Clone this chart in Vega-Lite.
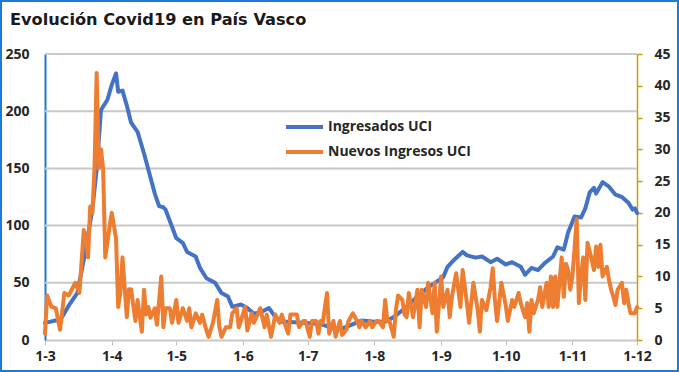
{
  "$schema": "https://vega.github.io/schema/vega-lite/v6.json",
  "width": 677,
  "height": 370,
  "padding": 1,
  "autosize": "none",
  "background": "white",
  "title": {"text": "Evolución Covid19 en País Vasco", "anchor": "start", "frame": "group", "offset": -27, "dx": 9, "font": "DejaVu Sans", "fontSize": 16.2, "fontWeight": "bold", "color": "#1a1a1a"},
  "config": {"view": {"stroke": "#1E7AD6", "strokeWidth": 2}},
  "datasets": {
    "uci": [
      {"fecha": "2020-03-01", "valor": 15}, {"fecha": "2020-03-06", "valor": 17}, {"fecha": "2020-03-08", "valor": 17},
      {"fecha": "2020-03-12", "valor": 30}, {"fecha": "2020-03-16", "valor": 41}, {"fecha": "2020-03-19", "valor": 70},
      {"fecha": "2020-03-23", "valor": 114}, {"fecha": "2020-03-25", "valor": 149}, {"fecha": "2020-03-27", "valor": 201},
      {"fecha": "2020-03-30", "valor": 210}, {"fecha": "2020-04-01", "valor": 223}, {"fecha": "2020-04-03", "valor": 233},
      {"fecha": "2020-04-04", "valor": 217}, {"fecha": "2020-04-06", "valor": 218}, {"fecha": "2020-04-08", "valor": 205},
      {"fecha": "2020-04-10", "valor": 190}, {"fecha": "2020-04-13", "valor": 182}, {"fecha": "2020-04-16", "valor": 163},
      {"fecha": "2020-04-19", "valor": 142}, {"fecha": "2020-04-21", "valor": 128}, {"fecha": "2020-04-23", "valor": 117},
      {"fecha": "2020-04-25", "valor": 116}, {"fecha": "2020-04-26", "valor": 114}, {"fecha": "2020-04-29", "valor": 99},
      {"fecha": "2020-05-01", "valor": 89}, {"fecha": "2020-05-04", "valor": 85}, {"fecha": "2020-05-06", "valor": 77},
      {"fecha": "2020-05-10", "valor": 73}, {"fecha": "2020-05-12", "valor": 63}, {"fecha": "2020-05-15", "valor": 54},
      {"fecha": "2020-05-19", "valor": 50}, {"fecha": "2020-05-22", "valor": 41}, {"fecha": "2020-05-25", "valor": 38},
      {"fecha": "2020-05-27", "valor": 29}, {"fecha": "2020-05-31", "valor": 31}, {"fecha": "2020-06-03", "valor": 28},
      {"fecha": "2020-06-06", "valor": 23}, {"fecha": "2020-06-09", "valor": 24}, {"fecha": "2020-06-13", "valor": 28},
      {"fecha": "2020-06-16", "valor": 20}, {"fecha": "2020-06-18", "valor": 16}, {"fecha": "2020-06-21", "valor": 16},
      {"fecha": "2020-06-29", "valor": 15}, {"fecha": "2020-07-07", "valor": 14}, {"fecha": "2020-07-13", "valor": 10},
      {"fecha": "2020-07-17", "valor": 10}, {"fecha": "2020-07-21", "valor": 13}, {"fecha": "2020-07-26", "valor": 17},
      {"fecha": "2020-08-01", "valor": 16}, {"fecha": "2020-08-06", "valor": 16}, {"fecha": "2020-08-10", "valor": 20},
      {"fecha": "2020-08-14", "valor": 26}, {"fecha": "2020-08-16", "valor": 29}, {"fecha": "2020-08-21", "valor": 38},
      {"fecha": "2020-08-26", "valor": 46}, {"fecha": "2020-08-30", "valor": 51}, {"fecha": "2020-09-02", "valor": 55},
      {"fecha": "2020-09-04", "valor": 64}, {"fecha": "2020-09-07", "valor": 70}, {"fecha": "2020-09-11", "valor": 77},
      {"fecha": "2020-09-13", "valor": 74}, {"fecha": "2020-09-17", "valor": 72}, {"fecha": "2020-09-20", "valor": 73},
      {"fecha": "2020-09-24", "valor": 68}, {"fecha": "2020-09-27", "valor": 71}, {"fecha": "2020-10-01", "valor": 66},
      {"fecha": "2020-10-04", "valor": 68}, {"fecha": "2020-10-08", "valor": 64}, {"fecha": "2020-10-10", "valor": 57},
      {"fecha": "2020-10-11", "valor": 59}, {"fecha": "2020-10-13", "valor": 63}, {"fecha": "2020-10-16", "valor": 61},
      {"fecha": "2020-10-19", "valor": 67}, {"fecha": "2020-10-23", "valor": 73}, {"fecha": "2020-10-25", "valor": 81},
      {"fecha": "2020-10-28", "valor": 79}, {"fecha": "2020-10-30", "valor": 94}, {"fecha": "2020-11-02", "valor": 108},
      {"fecha": "2020-11-05", "valor": 107}, {"fecha": "2020-11-07", "valor": 115}, {"fecha": "2020-11-09", "valor": 129},
      {"fecha": "2020-11-11", "valor": 133}, {"fecha": "2020-11-12", "valor": 128}, {"fecha": "2020-11-15", "valor": 138},
      {"fecha": "2020-11-18", "valor": 134}, {"fecha": "2020-11-21", "valor": 127}, {"fecha": "2020-11-24", "valor": 125},
      {"fecha": "2020-11-27", "valor": 120}, {"fecha": "2020-11-29", "valor": 114}, {"fecha": "2020-11-30", "valor": 115},
      {"fecha": "2020-12-01", "valor": 111}
    ],
    "nuevos": [
      {"fecha": "2020-03-01", "valor": 1}, {"fecha": "2020-03-02", "valor": 7}, {"fecha": "2020-03-04", "valor": 5.2},
      {"fecha": "2020-03-06", "valor": 5}, {"fecha": "2020-03-08", "valor": 1.6}, {"fecha": "2020-03-10", "valor": 7.4},
      {"fecha": "2020-03-12", "valor": 7}, {"fecha": "2020-03-14", "valor": 8.3}, {"fecha": "2020-03-15", "valor": 9},
      {"fecha": "2020-03-17", "valor": 7.4}, {"fecha": "2020-03-19", "valor": 17.3}, {"fecha": "2020-03-20", "valor": 15.7},
      {"fecha": "2020-03-21", "valor": 13}, {"fecha": "2020-03-22", "valor": 21}, {"fecha": "2020-03-23", "valor": 20},
      {"fecha": "2020-03-24", "valor": 27}, {"fecha": "2020-03-25", "valor": 42}, {"fecha": "2020-03-26", "valor": 27},
      {"fecha": "2020-03-27", "valor": 30}, {"fecha": "2020-03-28", "valor": 27}, {"fecha": "2020-03-29", "valor": 13},
      {"fecha": "2020-03-31", "valor": 17.8}, {"fecha": "2020-04-01", "valor": 20}, {"fecha": "2020-04-03", "valor": 16},
      {"fecha": "2020-04-04", "valor": 5.2}, {"fecha": "2020-04-05", "valor": 7.4}, {"fecha": "2020-04-06", "valor": 13},
      {"fecha": "2020-04-08", "valor": 3.6}, {"fecha": "2020-04-09", "valor": 8}, {"fecha": "2020-04-10", "valor": 8},
      {"fecha": "2020-04-12", "valor": 3}, {"fecha": "2020-04-13", "valor": 6.3}, {"fecha": "2020-04-15", "valor": 1.3},
      {"fecha": "2020-04-16", "valor": 7.9}, {"fecha": "2020-04-17", "valor": 4}, {"fecha": "2020-04-18", "valor": 5.2},
      {"fecha": "2020-04-19", "valor": 3.5}, {"fecha": "2020-04-21", "valor": 5}, {"fecha": "2020-04-22", "valor": 2.4},
      {"fecha": "2020-04-24", "valor": 10}, {"fecha": "2020-04-25", "valor": 2}, {"fecha": "2020-04-26", "valor": 5},
      {"fecha": "2020-04-28", "valor": 5}, {"fecha": "2020-04-29", "valor": 2.7}, {"fecha": "2020-05-01", "valor": 6.3},
      {"fecha": "2020-05-02", "valor": 2.7}, {"fecha": "2020-05-04", "valor": 5}, {"fecha": "2020-05-06", "valor": 3},
      {"fecha": "2020-05-07", "valor": 5}, {"fecha": "2020-05-08", "valor": 2}, {"fecha": "2020-05-10", "valor": 4.2},
      {"fecha": "2020-05-12", "valor": 2.7}, {"fecha": "2020-05-13", "valor": 4}, {"fecha": "2020-05-15", "valor": 1.5},
      {"fecha": "2020-05-16", "valor": 0.5}, {"fecha": "2020-05-18", "valor": 2.7}, {"fecha": "2020-05-20", "valor": 6.3},
      {"fecha": "2020-05-21", "valor": 2}, {"fecha": "2020-05-22", "valor": 0.5}, {"fecha": "2020-05-24", "valor": 2},
      {"fecha": "2020-05-26", "valor": 2}, {"fecha": "2020-05-27", "valor": 4.2}, {"fecha": "2020-05-29", "valor": 5},
      {"fecha": "2020-05-30", "valor": 2}, {"fecha": "2020-06-02", "valor": 5.2}, {"fecha": "2020-06-03", "valor": 1.5},
      {"fecha": "2020-06-05", "valor": 4.2}, {"fecha": "2020-06-06", "valor": 2.7}, {"fecha": "2020-06-08", "valor": 4.2},
      {"fecha": "2020-06-09", "valor": 5}, {"fecha": "2020-06-11", "valor": 2}, {"fecha": "2020-06-12", "valor": 4},
      {"fecha": "2020-06-14", "valor": 0.5}, {"fecha": "2020-06-16", "valor": 4}, {"fecha": "2020-06-18", "valor": 2.7},
      {"fecha": "2020-06-19", "valor": 4}, {"fecha": "2020-06-21", "valor": 2}, {"fecha": "2020-06-22", "valor": 1},
      {"fecha": "2020-06-23", "valor": 4}, {"fecha": "2020-06-24", "valor": 4}, {"fecha": "2020-06-26", "valor": 4},
      {"fecha": "2020-06-27", "valor": 2}, {"fecha": "2020-06-29", "valor": 3}, {"fecha": "2020-06-30", "valor": 3},
      {"fecha": "2020-07-02", "valor": 0.5}, {"fecha": "2020-07-03", "valor": 3}, {"fecha": "2020-07-05", "valor": 3},
      {"fecha": "2020-07-06", "valor": 1}, {"fecha": "2020-07-07", "valor": 3}, {"fecha": "2020-07-08", "valor": 2.7},
      {"fecha": "2020-07-10", "valor": 7.4}, {"fecha": "2020-07-11", "valor": 1}, {"fecha": "2020-07-13", "valor": 3},
      {"fecha": "2020-07-14", "valor": 0.5}, {"fecha": "2020-07-16", "valor": 3}, {"fecha": "2020-07-17", "valor": 0.8},
      {"fecha": "2020-07-19", "valor": 1.6}, {"fecha": "2020-07-20", "valor": 3}, {"fecha": "2020-07-22", "valor": 4.2},
      {"fecha": "2020-07-24", "valor": 3}, {"fecha": "2020-07-25", "valor": 2}, {"fecha": "2020-07-26", "valor": 3},
      {"fecha": "2020-07-28", "valor": 2}, {"fecha": "2020-07-30", "valor": 3}, {"fecha": "2020-07-31", "valor": 2},
      {"fecha": "2020-08-02", "valor": 3}, {"fecha": "2020-08-03", "valor": 3}, {"fecha": "2020-08-05", "valor": 2},
      {"fecha": "2020-08-06", "valor": 6.3}, {"fecha": "2020-08-07", "valor": 3}, {"fecha": "2020-08-08", "valor": 3},
      {"fecha": "2020-08-10", "valor": 0.5}, {"fecha": "2020-08-11", "valor": 4.7}, {"fecha": "2020-08-12", "valor": 7},
      {"fecha": "2020-08-14", "valor": 6.3}, {"fecha": "2020-08-15", "valor": 4}, {"fecha": "2020-08-16", "valor": 3.6},
      {"fecha": "2020-08-17", "valor": 7.4}, {"fecha": "2020-08-19", "valor": 3.6}, {"fecha": "2020-08-21", "valor": 7.9},
      {"fecha": "2020-08-22", "valor": 2}, {"fecha": "2020-08-23", "valor": 7.9}, {"fecha": "2020-08-25", "valor": 5.2},
      {"fecha": "2020-08-26", "valor": 9}, {"fecha": "2020-08-28", "valor": 4.2}, {"fecha": "2020-08-29", "valor": 9},
      {"fecha": "2020-08-30", "valor": 1.3}, {"fecha": "2020-09-01", "valor": 10}, {"fecha": "2020-09-02", "valor": 5.2},
      {"fecha": "2020-09-04", "valor": 7.9}, {"fecha": "2020-09-05", "valor": 3.6}, {"fecha": "2020-09-06", "valor": 6.8},
      {"fecha": "2020-09-08", "valor": 10.5}, {"fecha": "2020-09-10", "valor": 5.2}, {"fecha": "2020-09-11", "valor": 11},
      {"fecha": "2020-09-13", "valor": 5.8}, {"fecha": "2020-09-14", "valor": 2.7}, {"fecha": "2020-09-16", "valor": 9},
      {"fecha": "2020-09-18", "valor": 4.7}, {"fecha": "2020-09-19", "valor": 1.3}, {"fecha": "2020-09-20", "valor": 6.3},
      {"fecha": "2020-09-22", "valor": 4.7}, {"fecha": "2020-09-24", "valor": 8.3}, {"fecha": "2020-09-25", "valor": 11.3},
      {"fecha": "2020-09-26", "valor": 6.3}, {"fecha": "2020-09-27", "valor": 3}, {"fecha": "2020-09-29", "valor": 9},
      {"fecha": "2020-10-01", "valor": 5.5}, {"fecha": "2020-10-02", "valor": 3}, {"fecha": "2020-10-04", "valor": 6.3},
      {"fecha": "2020-10-05", "valor": 5.2}, {"fecha": "2020-10-07", "valor": 7.4}, {"fecha": "2020-10-08", "valor": 5.8},
      {"fecha": "2020-10-10", "valor": 3.6}, {"fecha": "2020-10-11", "valor": 5.8}, {"fecha": "2020-10-12", "valor": 1.3},
      {"fecha": "2020-10-13", "valor": 6.3}, {"fecha": "2020-10-14", "valor": 4.2}, {"fecha": "2020-10-16", "valor": 6.3},
      {"fecha": "2020-10-17", "valor": 8.3}, {"fecha": "2020-10-18", "valor": 5.2}, {"fecha": "2020-10-20", "valor": 9},
      {"fecha": "2020-10-21", "valor": 5.2}, {"fecha": "2020-10-22", "valor": 10}, {"fecha": "2020-10-23", "valor": 5.2},
      {"fecha": "2020-10-24", "valor": 10}, {"fecha": "2020-10-25", "valor": 5.2}, {"fecha": "2020-10-27", "valor": 13},
      {"fecha": "2020-10-28", "valor": 6.8}, {"fecha": "2020-10-29", "valor": 12}, {"fecha": "2020-10-30", "valor": 11},
      {"fecha": "2020-10-31", "valor": 7.9}, {"fecha": "2020-11-01", "valor": 10}, {"fecha": "2020-11-03", "valor": 19},
      {"fecha": "2020-11-04", "valor": 5.8}, {"fecha": "2020-11-05", "valor": 10}, {"fecha": "2020-11-06", "valor": 13},
      {"fecha": "2020-11-07", "valor": 6.3}, {"fecha": "2020-11-08", "valor": 15.3}, {"fecha": "2020-11-10", "valor": 12.6},
      {"fecha": "2020-11-11", "valor": 11}, {"fecha": "2020-11-12", "valor": 14.7}, {"fecha": "2020-11-13", "valor": 11.5},
      {"fecha": "2020-11-14", "valor": 15}, {"fecha": "2020-11-15", "valor": 10}, {"fecha": "2020-11-17", "valor": 11.5},
      {"fecha": "2020-11-18", "valor": 9.4}, {"fecha": "2020-11-19", "valor": 7.9}, {"fecha": "2020-11-20", "valor": 6.8},
      {"fecha": "2020-11-21", "valor": 5.5}, {"fecha": "2020-11-22", "valor": 7.9}, {"fecha": "2020-11-24", "valor": 9},
      {"fecha": "2020-11-25", "valor": 5.8}, {"fecha": "2020-11-26", "valor": 7.9}, {"fecha": "2020-11-27", "valor": 5.8},
      {"fecha": "2020-11-28", "valor": 4.2}, {"fecha": "2020-11-30", "valor": 4.2}, {"fecha": "2020-12-01", "valor": 5.2}
    ],
    "rejilla": [
      {"fecha": "2020-03-01", "valor": 50, "linea": "50"}, {"fecha": "2020-12-01", "valor": 50, "linea": "50"},
      {"fecha": "2020-03-01", "valor": 100, "linea": "100"}, {"fecha": "2020-12-01", "valor": 100, "linea": "100"},
      {"fecha": "2020-03-01", "valor": 150, "linea": "150"}, {"fecha": "2020-12-01", "valor": 150, "linea": "150"},
      {"fecha": "2020-03-01", "valor": 200, "linea": "200"}, {"fecha": "2020-12-01", "valor": 200, "linea": "200"},
      {"fecha": "2020-03-01", "valor": 250, "linea": "250"}, {"fecha": "2020-12-01", "valor": 250, "linea": "250"}
    ]
  },
  "layer": [
    {
      "data": {"name": "rejilla"},
      "mark": {"type": "line", "color": "#c8c8c8", "strokeWidth": 2},
      "encoding": {
        "x": {"field": "fecha", "type": "temporal"},
        "y": {"field": "valor", "type": "quantitative", "scale": {"domain": [0, 250], "range": [339, 53], "nice": false}, "axis": null},
        "detail": {"field": "linea", "type": "nominal"}
      }
    },
    {
      "data": {"name": "uci"},
      "mark": {"type": "line", "strokeWidth": 4, "strokeJoin": "round", "strokeCap": "round"},
      "encoding": {
        "x": {
          "field": "fecha", "type": "temporal",
          "scale": {"type": "utc", "domain": [{"year": 2020, "month": 3, "date": 1, "utc": true}, {"year": 2020, "month": 12, "date": 1, "utc": true}], "range": [44, 636]},
          "axis": {
            "title": null, "offset": -31, "grid": false, "format": "%-d-%-m",
            "values": [
              {"year": 2020, "month": 3, "date": 1, "utc": true}, {"year": 2020, "month": 4, "date": 1, "utc": true},
              {"year": 2020, "month": 5, "date": 1, "utc": true}, {"year": 2020, "month": 6, "date": 1, "utc": true},
              {"year": 2020, "month": 7, "date": 1, "utc": true}, {"year": 2020, "month": 8, "date": 1, "utc": true},
              {"year": 2020, "month": 9, "date": 1, "utc": true}, {"year": 2020, "month": 10, "date": 1, "utc": true},
              {"year": 2020, "month": 11, "date": 1, "utc": true}, {"year": 2020, "month": 12, "date": 1, "utc": true}
            ],
            "domainColor": "#c8c8c8", "domainWidth": 2, "tickColor": "#bfbfbf", "tickSize": 5, "tickWidth": 1,
            "labelFont": "Open Sans", "labelFontSize": 14, "labelFontWeight": "bold", "labelColor": "#262626",
            "labelPadding": 4, "labelFlush": false, "labelOverlap": false
          }
        },
        "y": {
          "field": "valor", "type": "quantitative",
          "scale": {"domain": [0, 250], "range": [339, 53], "nice": false},
          "axis": {
            "orient": "left", "title": null, "offset": -44, "values": [0, 50, 100, 150, 200, 250],
            "grid": false,
            "domainColor": "#1F7BD0", "domainWidth": 2, "ticks": false, "tickSize": 0,
            "labelFont": "Open Sans", "labelFontSize": 14, "labelFontWeight": "bold", "labelColor": "#262626",
            "labelPadding": 16
          }
        },
        "color": {
          "datum": "Ingresados UCI", "type": "nominal",
          "scale": {"domain": ["Ingresados UCI", "Nuevos Ingresos UCI"], "range": ["#4472C4", "#ED7D31"]},
          "legend": {
            "orient": "none", "legendX": 283, "legendY": 116, "title": null, "padding": 0,
            "symbolType": "stroke", "symbolSize": 1369, "symbolStrokeWidth": 4,
            "labelFont": "Open Sans", "labelFontSize": 14, "labelFontWeight": "bold", "labelColor": "#262626",
            "labelOffset": 3, "clipHeight": 20, "rowPadding": 5
          }
        }
      }
    },
    {
      "data": {"name": "nuevos"},
      "mark": {"type": "line", "strokeWidth": 4, "strokeJoin": "round", "strokeCap": "round"},
      "encoding": {
        "x": {"field": "fecha", "type": "temporal"},
        "y": {
          "field": "valor", "type": "quantitative",
          "scale": {"domain": [0, 45], "range": [339, 53], "nice": false},
          "axis": {
            "orient": "right", "title": null, "offset": -41, "grid": false, "values": [0, 5, 10, 15, 20, 25, 30, 35, 40, 45],
            "domainColor": "#C9A000", "domainWidth": 1.5, "tickColor": "#C9A000", "tickSize": 5, "tickWidth": 1.5,
            "labelFont": "Open Sans", "labelFontSize": 14, "labelFontWeight": "bold", "labelColor": "#262626",
            "labelPadding": 12
          }
        },
        "color": {"datum": "Nuevos Ingresos UCI", "type": "nominal"}
      }
    }
  ],
  "resolve": {"scale": {"y": "independent"}}
}
